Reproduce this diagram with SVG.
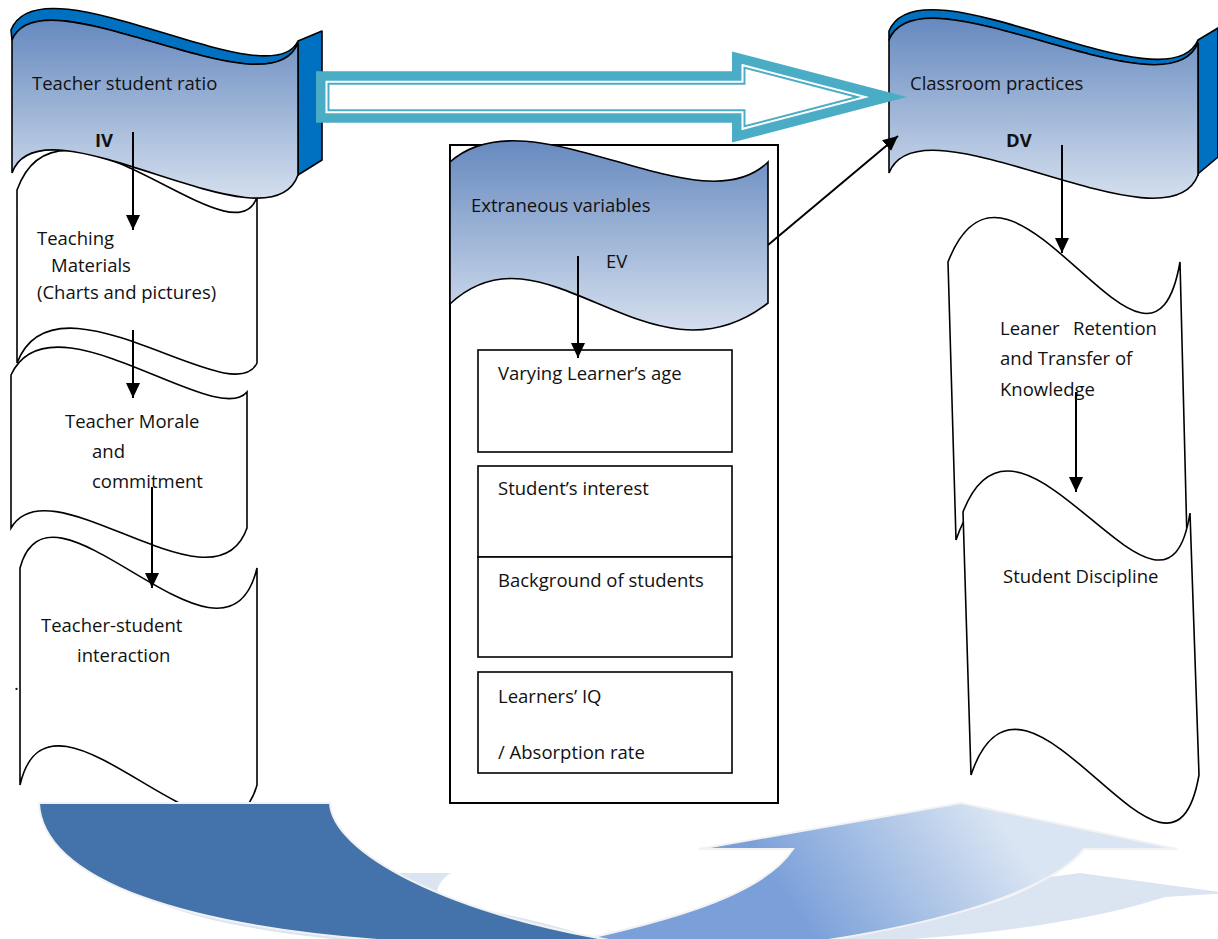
<svg xmlns="http://www.w3.org/2000/svg" width="1218" height="939" viewBox="0 0 1218 939">
<defs>
<linearGradient id="bg" x1="0" y1="0" x2="0" y2="1">
<stop offset="0" stop-color="#6689bf"/>
<stop offset="1" stop-color="#d4dfee"/>
</linearGradient>
<linearGradient id="lg" gradientUnits="userSpaceOnUse" x1="1000" y1="820" x2="820" y2="945">
<stop offset="0" stop-color="#dae5f3"/>
<stop offset="1" stop-color="#7ba0d9"/>
</linearGradient>
<marker id="ah" markerUnits="userSpaceOnUse" markerWidth="16" markerHeight="14" refX="15" refY="7" orient="auto">
<path d="M0,0 L15,7 L0,14 Z" fill="#000"/>
</marker>
<style>
.t{font-family:"Open Sans","Liberation Sans",sans-serif;font-size:18.5px;fill:#111}
.b{font-weight:bold}
.tape{fill:#fff;stroke:#000;stroke-width:1.6}
.front{fill:url(#bg);stroke:#000;stroke-width:1.6}
.back{fill:#0070c0;stroke:#000;stroke-width:1.6;stroke-linejoin:round}
.box{fill:#fff;stroke:#000;stroke-width:1.6}
.conn{stroke:#000;stroke-width:2;fill:none;marker-end:url(#ah)}
</style>
</defs>
<rect width="1218" height="939" fill="#fff"/>

<!-- left tapes -->
<g id="n-materials">
<path class="tape" d="M17,190 C60,70 233,267 257,197 L257,363 C233,415 55,263 17,363 Z"/>
<text class="t" x="37" y="245">Teaching</text>
<text class="t" x="51" y="272">Materials</text>
<text class="t" x="37" y="299">(Charts and pictures)</text>
</g>
<g id="n-morale">
<path class="tape" d="M11,375 C50,290 215,430 247,392 L247,528 C215,620 50,460 11,528 Z"/>
<text class="t" x="65" y="428">Teacher Morale</text>
<text class="t" x="92" y="458">and</text>
<text class="t" x="92" y="488">commitment</text>
</g>
<g id="n-interaction">
<path class="tape" d="M20,568 C50,455 225,700 257,568 L257,785 C225,900 50,655 20,785 Z"/>
<text class="t" x="41" y="632">Teacher-student</text>
<text class="t" x="77" y="662">interaction</text>
<text class="t" x="14" y="690">.</text>
</g>

<!-- IV banner -->
<g id="n-iv">
<path class="back" d="M11,30 C40,-44 270,101 298,41 L322,31 L322,160 L298,175 L298,43 C269.4,117 40.6,-31 12,40 Z"/>
<path class="front" d="M12,40 C40.6,-31 269.4,117 298,43 L298,175 C269.4,256 40.6,92 12,173 Z"/>
<text class="t" x="32" y="90">Teacher student ratio</text>
<text class="t b" x="95" y="147">IV</text>
</g>

<!-- DV banner -->
<g id="n-dv">
<path class="back" d="M889,31 C919.9,-45 1167.1,112 1198,40 L1218,28 L1218,157 L1180,189 L1198,175 L1198,43 C1167.1,119.5 919.9,-36.5 889,40 Z"/>
<path class="front" d="M889,40 C919.9,-36.5 1167.1,119.5 1198,43 L1198,175 C1167.1,256 919.9,93 889,173 Z"/>
<text class="t" x="910" y="90">Classroom practices</text>
<text class="t b" x="1006" y="147">DV</text>
</g>

<!-- right tapes -->
<g id="n-retention">
<path class="tape" d="M948,262 C1010,103 1150,435 1180,262 L1187,540 C1157,700 1010,380 956,540 Z"/>
<text class="t" x="1000" y="335">Leaner</text>
<text class="t" x="1073" y="335">Retention</text>
<text class="t" x="1000" y="365">and Transfer of</text>
<text class="t" x="1000" y="396">Knowledge</text>
</g>
<g id="n-discipline">
<path class="tape" d="M963,512 C1020,365 1165,672 1190,513 L1199,775 C1170,940 1025,615 971,775 Z"/>
<text class="t" x="1003" y="583">Student Discipline</text>
</g>

<!-- EV frame -->
<g id="n-ev">
<rect x="450" y="145" width="328" height="658" fill="#fff" stroke="#000" stroke-width="2"/>
<path class="front" d="M450,162 C530,90 700,230 768,162 L768,303 C650,395 545,215 450,304 Z"/>
<text class="t" x="471" y="212">Extraneous variables</text>
<text class="t" x="606" y="268">EV</text>
</g>
<g id="n-age">
<rect class="box" x="478" y="350" width="254" height="102"/>
<text class="t" x="498" y="380">Varying Learner’s age</text>
</g>
<g id="n-interest">
<rect class="box" x="478" y="466" width="254" height="91"/>
<text class="t" x="498" y="495">Student’s interest</text>
</g>
<g id="n-background">
<rect class="box" x="478" y="557" width="254" height="100"/>
<text class="t" x="498" y="587">Background of students</text>
</g>
<g id="n-iq">
<rect class="box" x="478" y="672" width="254" height="101"/>
<text class="t" x="498" y="703">Learners’ IQ</text>
<text class="t" x="498" y="759">/ Absorption rate</text>
</g>

<!-- bottom cycle arrows -->
<g id="cycle">
<path d="M130,880 C140,905 220,932 400,945 L600,945 L575,932 C520,915 460,905 445,908 C432,898 436,882 451,873 L200,873 Z" fill="#dbe5f1"/>
<path d="M1049,877 L1080,873 L1228,893 L1165,897 C1080,925 950,940 800,945 L760,945 C900,930 1000,910 1049,877 Z" fill="#dbe5f1"/>
<path d="M793,849 L699,849 L961,803 L1177,849 L1084,849 C1055,885 960,925 770,948 L545,948 C650,925 760,900 793,849 Z" fill="url(#lg)" stroke="#f2f2f2" stroke-width="2"/>
<path d="M39,803 L330,803 C332,850 440,915 640,945 L470,945 C170,935 42,875 39,803 Z" fill="#4472aa" stroke="#f2f2f2" stroke-width="2"/>
</g>

<!-- big hollow arrow IV -> DV -->
<g id="n-bigarrow">
<path d="M316,71.25 L732,71.25 L732,51.5 L907,97 L732,142.5 L732,122.75 L316,122.75 Z" fill="#4bacc6"/>
<path d="M325.5,80.75 L741.5,80.75 L741.5,63.8 L869.2,97 L741.5,130.2 L741.5,113.25 L325.5,113.25 Z" fill="#fff"/>
<path d="M327.5,82.75 L743.5,82.75 L743.5,66.4 L861.3,97 L743.5,127.6 L743.5,111.25 L327.5,111.25 Z" fill="#4bacc6"/>
<path d="M329.5,84.75 L745.5,84.75 L745.5,69 L853.3,97 L745.5,125 L745.5,109.25 L329.5,109.25 Z" fill="#fff"/>
</g>

<!-- connectors -->
<g id="connectors">
<line class="conn" x1="133" y1="132" x2="133" y2="230"/>
<line class="conn" x1="133" y1="330" x2="133" y2="398"/>
<line class="conn" x1="152" y1="487" x2="152" y2="588"/>
<line class="conn" x1="1062" y1="145" x2="1062" y2="253"/>
<line class="conn" x1="1076" y1="392" x2="1076" y2="492"/>
<line class="conn" x1="578" y1="256" x2="578" y2="358"/>
<line class="conn" x1="768" y1="245" x2="898" y2="136"/>
</g>
</svg>
